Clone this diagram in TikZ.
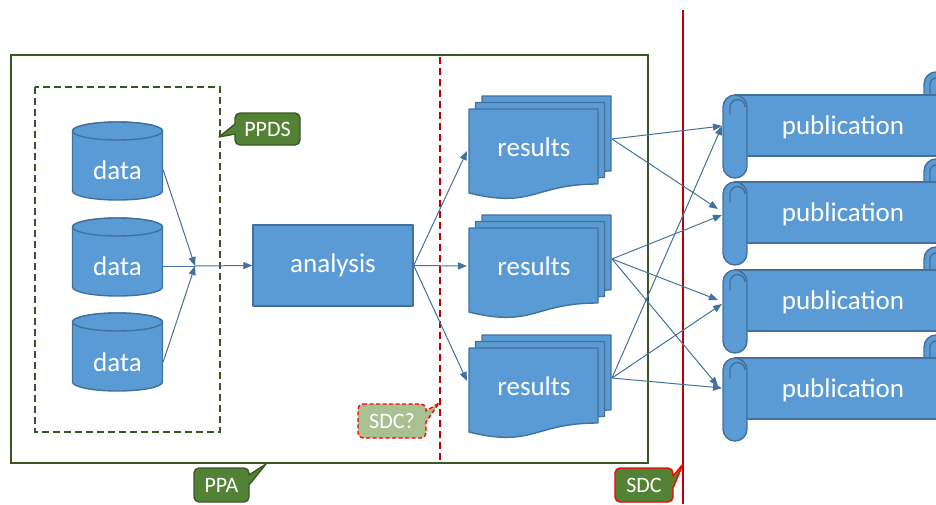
\documentclass[tikz,border=0pt]{standalone}
\usepackage{fontspec}
\setmainfont{Carlito}
\usetikzlibrary{arrows.meta}
\definecolor{sblue}{HTML}{5B9BD5}
\definecolor{dblue}{HTML}{41719C}
\definecolor{gfill}{HTML}{548235}
\definecolor{gdark}{HTML}{385723}
\definecolor{sage}{HTML}{A9C191}
\definecolor{dred}{HTML}{C00000}
\definecolor{bred}{HTML}{FF0000}
\tikzset{
  shp/.style={fill=sblue, draw=dblue, line width=1.4pt, line join=round},
  lbl/.style={text=white, font=\fontsize{27}{32}\selectfont, inner sep=0pt},
  clbl/.style={text=white, font=\fontsize{22}{26}\selectfont, inner sep=0pt},
  conn/.style={draw=dblue, line width=1pt, -{Triangle[length=9pt,width=7pt]}},
  plainconn/.style={draw=dblue, line width=1pt},
  curl/.style={draw=dblue, line width=1.4pt},
  dashgreen/.style={draw=gdark, line width=2pt, dash pattern=on 7pt off 4pt},
}
\newcommand\cylshape[2]{%
  \filldraw[shp] ({#1-45},#2) -- ({#1-45},{#2+60}) arc[start angle=180,end angle=0,x radius=45,y radius=9]
    -- ({#1+45},#2) arc[start angle=0,end angle=-180,x radius=45,y radius=9] -- cycle;
  \filldraw[shp] (#1,#2) ellipse[x radius=45,y radius=9];}
\newcommand\docpage[2]{%
  \filldraw[shp] (#1,#2) -- ({#1+129},#2) -- ({#1+129},{#2+75})
    .. controls ({#1+64.5},{#2+75}) and ({#1+64.5},{#2+100}) .. (#1,{#2+84}) -- cycle;}
\newcommand\docstack[2]{\docpage{#1+13}{#2-13}\docpage{#1+6.5}{#2-6.5}\docpage{#1}{#2}}
\newcommand\pubscroll[1]{%
  % right roll (behind band)
  \filldraw[shp] (924,{#1+15}) -- (924,{#1-11}) arc[start angle=180,end angle=360,radius=12] -- (948,{#1+15}) -- cycle;
  \draw[curl] (930,{#1-1}) -- (930,{#1-11}) arc[start angle=180,end angle=360,radius=6];
  % band
  \filldraw[shp] (735,#1) rectangle (960,{#1+61});
  % left roll
  \filldraw[shp] (723,{#1+12}) arc[start angle=180,end angle=360,radius=12] -- (747,{#1+71})
    arc[start angle=0,end angle=180,radius=12] -- cycle;
  \draw[curl] (730,{#1+20}) -- (730,{#1+12}) arc[start angle=180,end angle=360,radius=7.5];}
\begin{document}
\begin{tikzpicture}[x=1pt,y=-1pt]
\useasboundingbox (0,0) rectangle (936,504);
\clip (0,0) rectangle (936,504);

% frames and boundary lines
\draw[draw=gdark, line width=2pt] (11,55) rectangle (648,463);
\draw[dashgreen] (35,87) rectangle (220,432);
\draw[draw=dred, line width=1.5pt, dash pattern=on 7pt off 4pt] (440,57) -- (440,461);
\draw[draw=dred, line width=2pt] (683,10) -- (683,504);

% data cylinders
\cylshape{117.5}{131}
\cylshape{117.5}{227}
\cylshape{117.5}{322}
\node[lbl, minimum width=91pt] (d1) at (117.5,170) {data};
\node[lbl, minimum width=91pt] (d2) at (117.5,266) {data};
\node[lbl, minimum width=91pt] (d3) at (117.5,362) {data};
\coordinate (m) at (195,266);

% analysis
\node[shp, lbl, minimum width=160pt, minimum height=81pt] (an) at (333,265.5) {analysis};

% results
\docstack{469}{109}
\docstack{469}{228}
\docstack{469}{348}
\node[lbl] (r1) at (534,147) {results};
\node[lbl] (r2) at (534,266) {results};
\node[lbl] (r3) at (534,386) {results};
\coordinate (r1in) at (467,151);
\coordinate (r2in) at (467,266);
\coordinate (r3in) at (467,381);
\coordinate (r1out) at (612,139);
\coordinate (r2out) at (612,259);
\coordinate (r3out) at (612,378);

% publications
\pubscroll{95}
\pubscroll{182}
\pubscroll{270}
\pubscroll{358}
\node[lbl] (p1) at (843,127) {publication};
\node[lbl] (p2) at (843,214) {publication};
\node[lbl] (p3) at (843,302) {publication};
\node[lbl] (p4) at (843,390) {publication};
\coordinate (p1a) at (722,126);
\coordinate (p2a) at (718,209);
\coordinate (p2b) at (722,215);
\coordinate (p3a) at (718,300);
\coordinate (p3b) at (722,304);
\coordinate (p4a) at (718,386);
\coordinate (p4b) at (722,388);

% callouts
\filldraw[fill=gfill, draw=gdark, line width=1.4pt, line join=round]
  (240,113) -- (295,113) arc[start angle=-90,end angle=0,radius=5] -- (300,140)
  arc[start angle=0,end angle=90,radius=5] -- (240,145) arc[start angle=90,end angle=180,radius=5]
  -- (235,134) -- (219,137) -- (235,124) -- (235,118) arc[start angle=180,end angle=270,radius=5] -- cycle;
\node[clbl] (ppds) at (267.5,129) {PPDS};

\filldraw[fill=gfill, draw=gdark, line width=1.4pt, line join=round]
  (199,468) -- (244,468) arc[start angle=-90,end angle=0,radius=5] -- (249,475) -- (266,464)
  -- (249,485) -- (249,497) arc[start angle=0,end angle=90,radius=5] -- (199,502)
  arc[start angle=90,end angle=180,radius=5] -- (194,473) arc[start angle=180,end angle=270,radius=5] -- cycle;
\node[clbl] (ppa) at (221.5,485.5) {PPA};

\filldraw[fill=gfill, draw=bred, line width=1.4pt, line join=round]
  (620,468) -- (668,468) arc[start angle=-90,end angle=0,radius=5] -- (673,476) -- (683,464)
  -- (673,488) -- (673,497) arc[start angle=0,end angle=90,radius=5] -- (620,502)
  arc[start angle=90,end angle=180,radius=5] -- (615,473) arc[start angle=180,end angle=270,radius=5] -- cycle;
\node[clbl] (sdc) at (644,485) {SDC};

\filldraw[fill=sage, draw=bred, line width=1.4pt, line join=round, dash pattern=on 4pt off 2.5pt]
  (363,404) -- (421,404) arc[start angle=-90,end angle=0,radius=5] -- (426,411) -- (439,403)
  -- (426,422) -- (426,433) arc[start angle=0,end angle=90,radius=5] -- (363,438)
  arc[start angle=90,end angle=180,radius=5] -- (358,409) arc[start angle=180,end angle=270,radius=5] -- cycle;
\node[clbl] (sdcq) at (392,421) {SDC?};

% connectors
\draw[conn] (d1.east) -- (m);
\draw[conn] (d3.east) -- (m);
\draw[plainconn] (d2.east) -- (m);
\draw[conn] (m) -- (an.west);
\draw[conn] (an.east) -- (r1in);
\draw[conn] (an.east) -- (r2in);
\draw[conn] (an.east) -- (r3in);
\draw[conn] (r1out) -- (p1a);
\draw[conn] (r1out) -- (p2a);
\draw[conn] (r2out) -- (p2b);
\draw[conn] (r2out) -- (p3a);
\draw[conn] (r2out) -- (p4a);
\draw[conn] (r3out) -- (p1a);
\draw[conn] (r3out) -- (p3b);
\draw[conn] (r3out) -- (p4b);
\end{tikzpicture}
\end{document}
